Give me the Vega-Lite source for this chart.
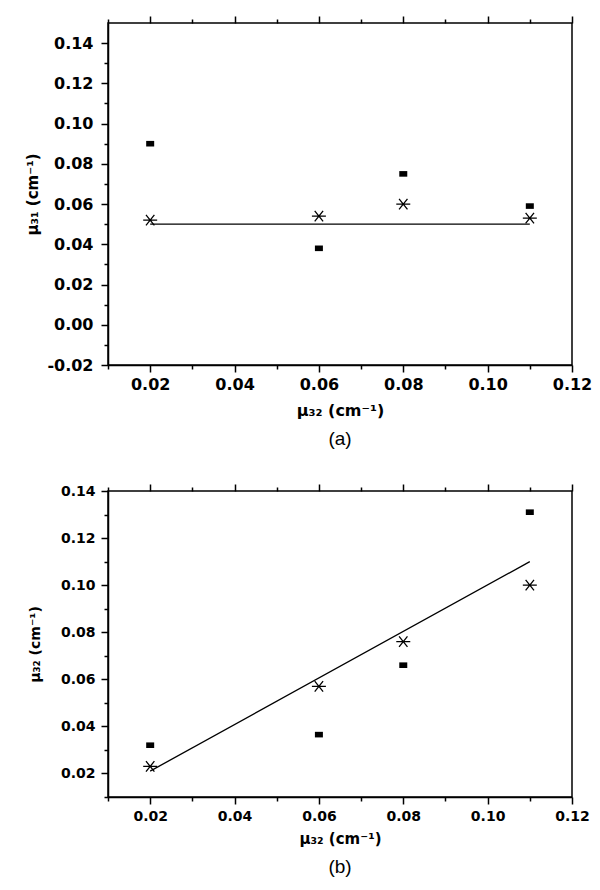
{
  "$schema": "https://vega.github.io/schema/vega-lite/v6.json",
  "padding": {"left": 25, "top": 14, "right": 20, "bottom": 5},
  "background": "white",
  "datasets": {
    "a": [
      {"mu32": 0.02, "mu": 0.090, "series": "measured"},
      {"mu32": 0.06, "mu": 0.038, "series": "measured"},
      {"mu32": 0.08, "mu": 0.075, "series": "measured"},
      {"mu32": 0.11, "mu": 0.059, "series": "measured"},
      {"mu32": 0.02, "mu": 0.052, "series": "reconstructed"},
      {"mu32": 0.06, "mu": 0.054, "series": "reconstructed"},
      {"mu32": 0.08, "mu": 0.060, "series": "reconstructed"},
      {"mu32": 0.11, "mu": 0.053, "series": "reconstructed"},
      {"mu32": 0.02, "mu": 0.050, "series": "true"},
      {"mu32": 0.11, "mu": 0.050, "series": "true"}
    ],
    "b": [
      {"mu32": 0.02, "mu": 0.032, "series": "measured"},
      {"mu32": 0.06, "mu": 0.0365, "series": "measured"},
      {"mu32": 0.08, "mu": 0.066, "series": "measured"},
      {"mu32": 0.11, "mu": 0.131, "series": "measured"},
      {"mu32": 0.02, "mu": 0.023, "series": "reconstructed"},
      {"mu32": 0.06, "mu": 0.057, "series": "reconstructed"},
      {"mu32": 0.08, "mu": 0.076, "series": "reconstructed"},
      {"mu32": 0.11, "mu": 0.100, "series": "reconstructed"},
      {"mu32": 0.02, "mu": 0.021, "series": "true"},
      {"mu32": 0.11, "mu": 0.110, "series": "true"}
    ]
  },
  "vconcat": [
    {
      "width": 464,
      "height": 342,
      "title": {"text": "(a)", "orient": "bottom", "anchor": "middle", "font": "Liberation Sans", "fontSize": 19, "fontWeight": "normal", "offset": 12},
      "data": {"name": "a"},
      "resolve": {"axis": {"x": "independent", "y": "independent"}},
      "layer": [
        {
          "transform": [{"filter": "datum.series == 'true'"}],
          "mark": {"type": "line", "color": "black", "strokeWidth": 1.3},
          "encoding": {
            "x": {"field": "mu32", "type": "quantitative", "scale": {"domain": [0.01, 0.12], "nice": false, "zero": false},
              "axis": {"orient": "bottom", "title": "μ₃₂ (cm⁻¹)", "values": [0.01,0.02,0.03,0.04,0.05,0.06,0.07,0.08,0.09,0.10,0.11,0.12],
                "labelExpr": "round(datum.value*100)%2==0 ? format(datum.value,'.2f') : ''",
                "tickSize": {"condition": {"test": "round(datum.value*100)%2 != 0", "value": 4}, "value": 7},
                "labelFontSize": 16, "labelPadding": 4, "titleFontSize": 16, "titlePadding": 10}},
            "y": {"field": "mu", "type": "quantitative", "scale": {"domain": [-0.02, 0.15], "nice": false, "zero": false},
              "axis": {"orient": "left", "title": "μ₃₁ (cm⁻¹)", "values": [-0.02,-0.01,0,0.01,0.02,0.03,0.04,0.05,0.06,0.07,0.08,0.09,0.10,0.11,0.12,0.13,0.14],
                "labelExpr": "round(datum.value*100)%2==0 ? replace(format(datum.value,'.2f'),'−','-') : ''",
                "tickSize": {"condition": {"test": "round(datum.value*100)%2 != 0", "value": 4}, "value": 7},
                "labelFontSize": 16, "labelPadding": 8, "titleFontSize": 15, "titlePadding": 6}}
          }
        },
        {
          "transform": [{"filter": "datum.series == 'measured'"}],
          "mark": {"type": "point", "shape": "M-1,-0.7H1V0.7H-1Z", "filled": true, "color": "black", "size": 64, "opacity": 1},
          "encoding": {
            "x": {"field": "mu32", "type": "quantitative", "axis": null},
            "y": {"field": "mu", "type": "quantitative", "axis": null}
          }
        },
        {
          "transform": [{"filter": "datum.series == 'reconstructed'"}],
          "mark": {"type": "point", "shape": "M-1,0H1M-0.6,-0.75L0.6,0.75M-0.6,0.75L0.6,-0.75", "filled": false, "color": "black", "strokeWidth": 1.3, "size": 196, "opacity": 1},
          "encoding": {
            "x": {"field": "mu32", "type": "quantitative", "axis": null},
            "y": {"field": "mu", "type": "quantitative", "axis": null}
          }
        },
        {
          "transform": [{"filter": "datum.series == 'true'"}],
          "mark": {"type": "point", "opacity": 0},
          "encoding": {
            "x": {"field": "mu32", "type": "quantitative",
              "axis": {"orient": "top", "title": null, "labels": false, "domain": false, "values": [0.01,0.02,0.03,0.04,0.05,0.06,0.07,0.08,0.09,0.10,0.11,0.12],
                "tickSize": {"condition": {"test": "round(datum.value*100)%2 != 0", "value": 4}, "value": 7}}},
            "y": {"field": "mu", "type": "quantitative", "axis": null}
          }
        }
      ]
    },
    {
      "width": 464,
      "height": 306,
      "title": {"text": "(b)", "orient": "bottom", "anchor": "middle", "font": "Liberation Sans", "fontSize": 19, "fontWeight": "normal", "offset": 12},
      "data": {"name": "b"},
      "resolve": {"axis": {"x": "independent", "y": "independent"}},
      "layer": [
        {
          "transform": [{"filter": "datum.series == 'true'"}],
          "mark": {"type": "line", "color": "black", "strokeWidth": 1.3},
          "encoding": {
            "x": {"field": "mu32", "type": "quantitative", "scale": {"domain": [0.01, 0.12], "nice": false, "zero": false},
              "axis": {"orient": "bottom", "title": "μ₃₂ (cm⁻¹)", "values": [0.01,0.02,0.03,0.04,0.05,0.06,0.07,0.08,0.09,0.10,0.11,0.12],
                "labelExpr": "round(datum.value*100)%2==0 ? format(datum.value,'.2f') : ''",
                "tickSize": {"condition": {"test": "round(datum.value*100)%2 != 0", "value": 4}, "value": 7},
                "labelFontSize": 14, "labelPadding": 5, "titleFontSize": 15, "titlePadding": 8}},
            "y": {"field": "mu", "type": "quantitative", "scale": {"domain": [0.01, 0.14], "nice": false, "zero": false},
              "axis": {"orient": "left", "title": "μ₃₂ (cm⁻¹)", "values": [0.01,0.02,0.03,0.04,0.05,0.06,0.07,0.08,0.09,0.10,0.11,0.12,0.13,0.14],
                "labelExpr": "round(datum.value*100)%2==0 ? format(datum.value,'.2f') : ''",
                "tickSize": {"condition": {"test": "round(datum.value*100)%2 != 0", "value": 4}, "value": 7},
                "labelFontSize": 14, "labelPadding": 6, "titleFontSize": 14, "titlePadding": 18}}
          }
        },
        {
          "transform": [{"filter": "datum.series == 'measured'"}],
          "mark": {"type": "point", "shape": "M-1,-0.7H1V0.7H-1Z", "filled": true, "color": "black", "size": 64, "opacity": 1},
          "encoding": {
            "x": {"field": "mu32", "type": "quantitative", "axis": null},
            "y": {"field": "mu", "type": "quantitative", "axis": null}
          }
        },
        {
          "transform": [{"filter": "datum.series == 'reconstructed'"}],
          "mark": {"type": "point", "shape": "M-1,0H1M-0.6,-0.75L0.6,0.75M-0.6,0.75L0.6,-0.75", "filled": false, "color": "black", "strokeWidth": 1.3, "size": 196, "opacity": 1},
          "encoding": {
            "x": {"field": "mu32", "type": "quantitative", "axis": null},
            "y": {"field": "mu", "type": "quantitative", "axis": null}
          }
        },
        {
          "transform": [{"filter": "datum.series == 'true'"}],
          "mark": {"type": "point", "opacity": 0},
          "encoding": {
            "x": {"field": "mu32", "type": "quantitative",
              "axis": {"orient": "top", "title": null, "labels": false, "domain": false, "values": [0.01,0.02,0.03,0.04,0.05,0.06,0.07,0.08,0.09,0.10,0.11,0.12],
                "tickSize": {"condition": {"test": "round(datum.value*100)%2 != 0", "value": 4}, "value": 7}}},
            "y": {"field": "mu", "type": "quantitative", "axis": null}
          }
        }
      ]
    }
  ],
  "spacing": 32,
  "config": {
    "view": {"stroke": "black", "strokeWidth": 1.5},
    "axis": {
      "grid": false,
      "domainColor": "black",
      "domainWidth": 1.5,
      "tickColor": "black",
      "tickWidth": 1.5,
      "labelColor": "black",
      "titleColor": "black",
      "labelFont": "DejaVu Sans",
      "labelFontWeight": "bold",
      "titleFont": "DejaVu Sans",
      "titleFontWeight": "bold",
      "labelFlush": false,
      "labelOverlap": false
    }
  }
}
